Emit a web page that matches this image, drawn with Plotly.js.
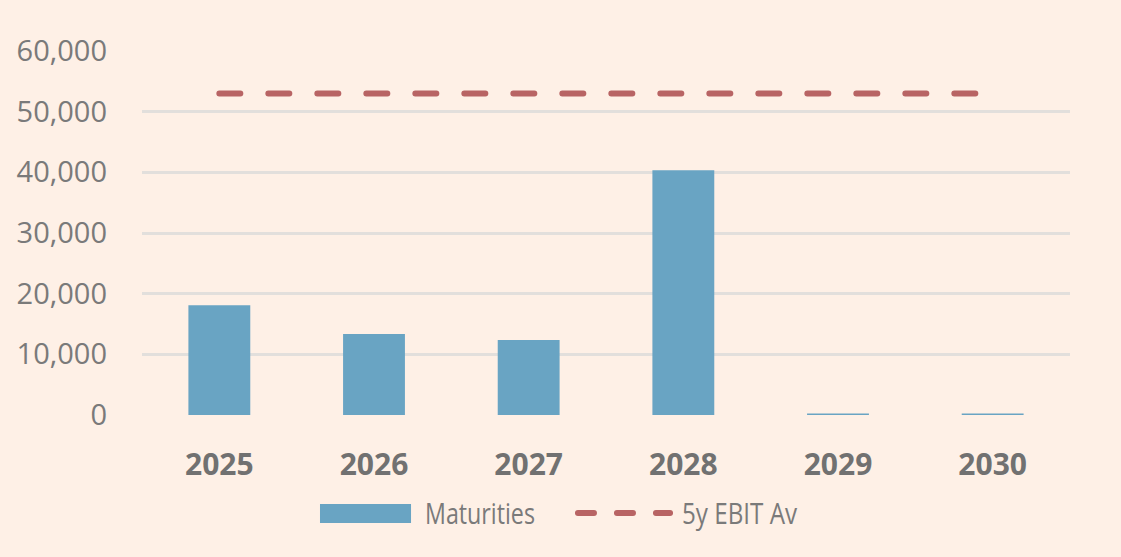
<!DOCTYPE html>
<html>
<head>
<meta charset="utf-8">
<script src="https://cdn.plot.ly/plotly-3.0.1.min.js"></script>
<style>
html,body{margin:0;padding:0;background:#FEF0E6;}
#chart{width:1121px;height:557px;}
.scatterlayer path.js-line, .shapelayer path{stroke-linecap:round;}
</style>
</head>
<body>
<div id="chart"></div>
<script>
const years = ['2025','2026','2027','2028','2029','2030'];
const maturities = [18100, 13350, 12350, 40350, 250, 250];
const ebitAvg = [53000, 53000, 53000, 53000, 53000, 53000];
const yTickVals = [0, 10000, 20000, 30000, 40000, 50000, 60000];
const yTickText = ['0','10,000','20,000','30,000','40,000','50,000','60,000'];
const seriesNames = ['Maturities', '5y EBIT Av'];

const barColor = '#69A4C3';
const lineColor = '#B86464';

const traces = [
  {
    type: 'bar', name: seriesNames[0], x: years, y: maturities,
    marker: {color: barColor, line: {width: 0}}
  },
  {
    type: 'scatter', mode: 'lines', name: seriesNames[1], x: years, y: ebitAvg,
    line: {color: lineColor, width: 6, dash: '21px,28px'}
  }
];

const layout = {
  width: 1121, height: 557,
  paper_bgcolor: '#FEF0E6', plot_bgcolor: '#FEF0E6',
  margin: {l: 142, r: 51, t: 51, b: 142},
  bargap: 0.6,
  showlegend: false,
  font: {family: '"Open Sans", "Noto Sans", sans-serif', color: '#7A7A7A'},
  xaxis: {
    type: 'category', showgrid: false, zeroline: false, showline: false,
    ticks: '', ticklabelstandoff: 29,
    tickfont: {size: 30, color: '#717171', family: '"Open Sans", sans-serif', weight: 'bold'}
  },
  yaxis: {
    range: [0, 60000], tickvals: yTickVals, ticktext: yTickText,
    showgrid: true, gridcolor: '#E2DFDC', gridwidth: 3, zeroline: false,
    showline: false, ticks: '', ticklabelstandoff: 34,
    tickfont: {size: 29, color: '#7A7A7A'}
  },
  // custom legend (swatches + labels) in paper coordinates
  shapes: [
    {type: 'rect', xref: 'paper', yref: 'paper',
     x0: 0.1918, x1: 0.2899, y0: -0.2967, y1: -0.2445,
     fillcolor: barColor, line: {width: 0}},
    {type: 'line', xref: 'paper', yref: 'paper',
     x0: 0.4698, x1: 0.5690, y0: -0.2692, y1: -0.2692,
     line: {color: lineColor, width: 6, dash: '16px,23px'}}
  ],
  annotations: [
    {xref: 'paper', yref: 'paper', x: 0.3028, y: -0.2692, xanchor: 'left', yanchor: 'middle',
     text: seriesNames[0], showarrow: false, font: {size: 29, color: '#7A7A7A'}},
    {xref: 'paper', yref: 'paper', x: 0.5797, y: -0.2692, xanchor: 'left', yanchor: 'middle',
     text: seriesNames[1], showarrow: false, font: {size: 29, color: '#7A7A7A'}}
  ]
};

Plotly.newPlot('chart', traces, layout, {displayModeBar: false, staticPlot: true}).then(function(gd){
  // condense legend labels to match the narrower reference face
  const widths = {'Maturities': 110, '5y EBIT Av': 115};
  gd.querySelectorAll('.annotation-text').forEach(function(t){
    const w = widths[t.textContent];
    if (w) {
      const bb = t.getBBox();
      const x0 = bb.x;
      t.setAttribute('textLength', w);
      t.setAttribute('lengthAdjust', 'spacingAndGlyphs');
      t.setAttribute('text-anchor', 'start');
      t.setAttribute('x', x0);
    }
  });
});
</script>
</body>
</html>
